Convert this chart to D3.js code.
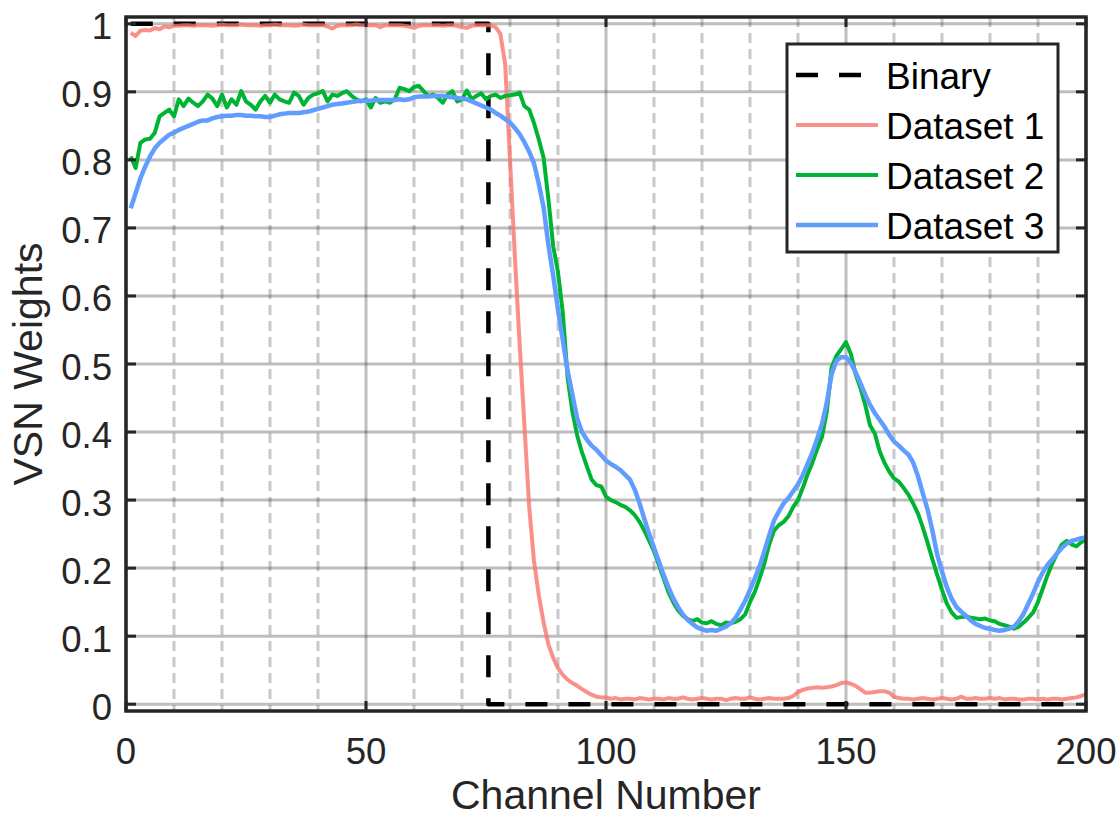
<!DOCTYPE html>
<html>
<head>
<meta charset="utf-8">
<script src="https://cdn.jsdelivr.net/npm/d3@7"></script>
<style>
  html, body { margin: 0; padding: 0; background: #fff; }
  svg { display: block; font-family: "Liberation Sans", Arial, sans-serif; }
</style>
</head>
<body>
<svg id="chart" width="1120" height="819"></svg>
<script>
// ---------------- data ----------------
const seriesNames = ["Binary", "Dataset 1", "Dataset 2", "Dataset 3"];
const xTicks = [0, 50, 100, 150, 200];
const xMinorTicks = [10, 20, 30, 40, 60, 70, 80, 90, 110, 120, 130, 140, 160, 170, 180, 190];
const yTicks = [0, 0.1, 0.2, 0.3, 0.4, 0.5, 0.6, 0.7, 0.8, 0.9, 1];
const yTickLabels = ["0", "0.1", "0.2", "0.3", "0.4", "0.5", "0.6", "0.7", "0.8", "0.9", "1"];
const xLabel = "Channel Number";
const yLabel = "VSN Weights";

const binaryCutoff = 75; // channels 1..75 weight 1, rest 0
const binary = d3.range(1, 201).map(c => (c <= binaryCutoff ? 1 : 0));

const dataset1 = [
  0.987,0.982,0.990,0.991,0.990,0.994,0.992,0.996,0.995,0.997,
  0.997,0.998,0.998,0.997,0.998,0.998,0.998,0.997,0.998,0.999,
  0.998,0.998,0.998,0.999,0.998,0.998,0.998,0.997,0.998,0.998,
  0.999,0.998,0.998,0.998,0.997,0.998,0.999,0.998,0.998,0.998,
  0.998,0.996,0.993,0.997,0.998,0.998,0.998,0.999,0.998,0.998,
  0.998,0.998,0.995,0.998,0.998,0.998,0.998,0.997,0.996,0.994,
  0.997,0.998,0.998,0.998,0.998,0.997,0.998,0.998,0.997,0.995,
  0.994,0.997,0.998,0.998,0.998,0.998,0.995,0.985,0.940,0.800,
  0.660,0.530,0.410,0.290,0.210,0.160,0.120,0.088,0.068,0.053,
  0.043,0.036,0.031,0.027,0.022,0.018,0.014,0.011,0.010,0.010,
  0.008,0.009,0.007,0.008,0.008,0.007,0.009,0.008,0.007,0.008,
  0.008,0.007,0.009,0.008,0.008,0.010,0.008,0.007,0.008,0.009,
  0.008,0.007,0.008,0.008,0.006,0.008,0.009,0.008,0.008,0.010,
  0.008,0.007,0.008,0.009,0.008,0.008,0.008,0.009,0.012,0.018,
  0.021,0.023,0.024,0.025,0.024,0.025,0.026,0.028,0.031,0.032,
  0.030,0.027,0.022,0.017,0.017,0.018,0.019,0.019,0.017,0.011,
  0.009,0.008,0.008,0.007,0.008,0.009,0.008,0.007,0.008,0.009,
  0.008,0.007,0.008,0.011,0.008,0.008,0.009,0.008,0.008,0.009,
  0.008,0.009,0.007,0.008,0.008,0.007,0.007,0.008,0.008,0.007,
  0.008,0.007,0.008,0.008,0.007,0.008,0.009,0.010,0.012,0.015
];

const dataset2 = [
  0.805,0.788,0.825,0.830,0.831,0.840,0.864,0.869,0.874,0.864,
  0.889,0.879,0.890,0.884,0.879,0.886,0.896,0.890,0.879,0.896,
  0.877,0.889,0.881,0.901,0.886,0.881,0.874,0.886,0.894,0.884,
  0.896,0.889,0.886,0.884,0.899,0.894,0.881,0.891,0.896,0.898,
  0.901,0.886,0.896,0.894,0.898,0.901,0.894,0.889,0.886,0.889,
  0.877,0.891,0.884,0.886,0.884,0.889,0.906,0.904,0.901,0.907,
  0.909,0.901,0.894,0.896,0.891,0.884,0.896,0.901,0.886,0.889,
  0.902,0.889,0.894,0.898,0.889,0.894,0.896,0.891,0.894,0.895,
  0.896,0.899,0.879,0.874,0.854,0.830,0.803,0.742,0.673,0.635,
  0.575,0.480,0.430,0.395,0.370,0.350,0.330,0.322,0.320,0.305,
  0.300,0.297,0.293,0.290,0.285,0.278,0.268,0.255,0.240,0.225,
  0.205,0.185,0.165,0.150,0.138,0.130,0.125,0.122,0.125,0.120,
  0.119,0.122,0.118,0.116,0.120,0.119,0.121,0.125,0.132,0.150,
  0.165,0.185,0.207,0.235,0.255,0.263,0.268,0.276,0.290,0.300,
  0.318,0.338,0.355,0.375,0.393,0.430,0.495,0.512,0.522,0.532,
  0.515,0.485,0.465,0.440,0.410,0.398,0.372,0.355,0.342,0.332,
  0.327,0.318,0.308,0.295,0.280,0.260,0.237,0.213,0.190,0.168,
  0.148,0.135,0.127,0.128,0.129,0.127,0.126,0.125,0.126,0.123,
  0.122,0.118,0.116,0.114,0.111,0.114,0.120,0.127,0.135,0.150,
  0.170,0.190,0.207,0.222,0.235,0.240,0.235,0.232,0.238,0.243
];

const dataset3 = [
  0.729,0.751,0.773,0.790,0.805,0.817,0.825,0.831,0.837,0.840,
  0.844,0.847,0.850,0.853,0.856,0.858,0.858,0.861,0.863,0.864,
  0.865,0.865,0.866,0.866,0.865,0.865,0.864,0.864,0.863,0.863,
  0.865,0.867,0.868,0.869,0.869,0.869,0.870,0.871,0.873,0.875,
  0.877,0.879,0.881,0.882,0.883,0.884,0.885,0.886,0.887,0.887,
  0.887,0.888,0.888,0.888,0.888,0.888,0.889,0.888,0.889,0.892,
  0.893,0.893,0.893,0.894,0.894,0.894,0.893,0.892,0.891,0.890,
  0.889,0.886,0.883,0.880,0.877,0.874,0.869,0.865,0.860,0.855,
  0.847,0.838,0.826,0.812,0.795,0.765,0.730,0.675,0.630,0.580,
  0.535,0.490,0.455,0.420,0.400,0.389,0.380,0.374,0.366,0.358,
  0.353,0.349,0.344,0.337,0.330,0.315,0.295,0.272,0.250,0.230,
  0.210,0.190,0.172,0.156,0.143,0.132,0.124,0.118,0.113,0.110,
  0.108,0.109,0.108,0.111,0.114,0.119,0.127,0.139,0.152,0.168,
  0.185,0.203,0.225,0.248,0.270,0.283,0.295,0.303,0.313,0.323,
  0.337,0.353,0.370,0.390,0.412,0.443,0.485,0.505,0.510,0.510,
  0.502,0.488,0.472,0.455,0.440,0.428,0.418,0.408,0.396,0.386,
  0.380,0.373,0.367,0.355,0.335,0.310,0.286,0.255,0.220,0.195,
  0.172,0.155,0.143,0.136,0.130,0.123,0.118,0.115,0.112,0.111,
  0.109,0.108,0.109,0.111,0.114,0.122,0.133,0.148,0.163,0.180,
  0.194,0.205,0.213,0.222,0.230,0.236,0.240,0.242,0.244,0.245
];

// ---------------- layout ----------------
const svg = d3.select("#chart");
const L = 126, R = 1086, T = 17, B = 711;
const x = d3.scaleLinear().domain([0, 200]).range([L, R]);
const y = d3.scaleLinear().domain([-0.01, 1.01]).range([B, T]);
const axisColor = "#262626";

// grid
const grid = svg.append("g");
grid.selectAll("line.minor").data(xMinorTicks).join("line")
  .attr("x1", d => x(d)).attr("x2", d => x(d)).attr("y1", T).attr("y2", B)
  .attr("stroke", axisColor).attr("stroke-opacity", 0.25)
  .attr("stroke-width", 3).attr("stroke-dasharray", "10,6");
grid.selectAll("line.mx").data(xTicks).join("line")
  .attr("x1", d => x(d)).attr("x2", d => x(d)).attr("y1", T).attr("y2", B)
  .attr("stroke", axisColor).attr("stroke-opacity", 0.3).attr("stroke-width", 3);
grid.selectAll("line.my").data(yTicks).join("line")
  .attr("class", "my")
  .attr("x1", L).attr("x2", R).attr("y1", d => y(d)).attr("y2", d => y(d))
  .attr("stroke", axisColor).attr("stroke-opacity", 0.3).attr("stroke-width", 3);

// lines
const channels = d3.range(1, 201);
const lineGen = d3.line().x((d, i) => x(channels[i])).y(d => y(d));
const series = [
  { name: seriesNames[0], values: binary, color: "#000000", width: 4.5, dash: "22,21", opacity: 1, curve: d3.curveStep },
  { name: seriesNames[1], values: dataset1, color: "#F8766D", width: 4, dash: null, opacity: 0.8, curve: d3.curveLinear },
  { name: seriesNames[2], values: dataset2, color: "#00B433", width: 4, dash: null, opacity: 1, curve: d3.curveLinear },
  { name: seriesNames[3], values: dataset3, color: "#619CFF", width: 4.5, dash: null, opacity: 1, curve: d3.curveLinear }
];
const plot = svg.append("g");
series.forEach(s => {
  plot.append("path")
    .attr("d", lineGen.curve(s.curve)(s.values))
    .attr("fill", "none")
    .attr("stroke", s.color)
    .attr("stroke-opacity", s.opacity)
    .attr("stroke-width", s.width)
    .attr("stroke-linejoin", "round")
    .attr("stroke-dasharray", s.dash);
});

// axes box + ticks
const ax = svg.append("g");
const tickLen = 10;
ax.selectAll("line.lt").data(yTicks).join("line")
  .attr("x1", L).attr("x2", L + tickLen).attr("y1", d => y(d)).attr("y2", d => y(d))
  .attr("stroke", axisColor).attr("stroke-width", 3);
ax.selectAll("line.rt").data(yTicks).join("line")
  .attr("class", "rt")
  .attr("x1", R).attr("x2", R - tickLen).attr("y1", d => y(d)).attr("y2", d => y(d))
  .attr("stroke", axisColor).attr("stroke-width", 3);
ax.selectAll("line.bt").data(xTicks).join("line")
  .attr("class", "bt")
  .attr("x1", d => x(d)).attr("x2", d => x(d)).attr("y1", B).attr("y2", B - tickLen)
  .attr("stroke", axisColor).attr("stroke-width", 3);
ax.selectAll("line.tt").data(xTicks).join("line")
  .attr("class", "tt")
  .attr("x1", d => x(d)).attr("x2", d => x(d)).attr("y1", T).attr("y2", T + tickLen)
  .attr("stroke", axisColor).attr("stroke-width", 3);
ax.append("rect").attr("x", L).attr("y", T).attr("width", R - L).attr("height", B - T)
  .attr("fill", "none").attr("stroke", axisColor).attr("stroke-width", 3.5);

// tick labels
ax.selectAll("text.xl").data(xTicks).join("text")
  .attr("class", "xl")
  .attr("x", d => x(d)).attr("y", 764)
  .attr("text-anchor", "middle").attr("font-size", 36.6).attr("fill", axisColor)
  .text(d => d);
ax.selectAll("text.yl").data(yTicks).join("text")
  .attr("class", "yl")
  .attr("x", 112).attr("y", d => y(d) + 15.5)
  .attr("text-anchor", "end").attr("font-size", 36.6).attr("fill", axisColor)
  .text((d, i) => yTickLabels[i]);

// axis labels
svg.append("text").attr("x", (L + R) / 2).attr("y", 809)
  .attr("text-anchor", "middle").attr("font-size", 41).attr("fill", axisColor)
  .text(xLabel);
svg.append("text").attr("transform", `translate(42,${(T + B) / 2}) rotate(-90)`)
  .attr("text-anchor", "middle").attr("font-size", 41).attr("fill", axisColor)
  .text(yLabel);

// legend
const lg = svg.append("g");
lg.append("rect").attr("x", 787).attr("y", 44).attr("width", 271).attr("height", 208)
  .attr("fill", "#fff").attr("stroke", axisColor).attr("stroke-width", 3);
series.forEach((s, i) => {
  const cy = 75 + i * 50;
  lg.append("line").attr("x1", 796).attr("x2", 878).attr("y1", cy).attr("y2", cy)
    .attr("stroke", s.color).attr("stroke-opacity", s.opacity)
    .attr("stroke-width", s.width).attr("stroke-dasharray", s.dash);
  lg.append("text").attr("x", 886).attr("y", cy + 13.5)
    .attr("font-size", 37).attr("fill", "#000").text(s.name);
});
</script>
</body>
</html>
